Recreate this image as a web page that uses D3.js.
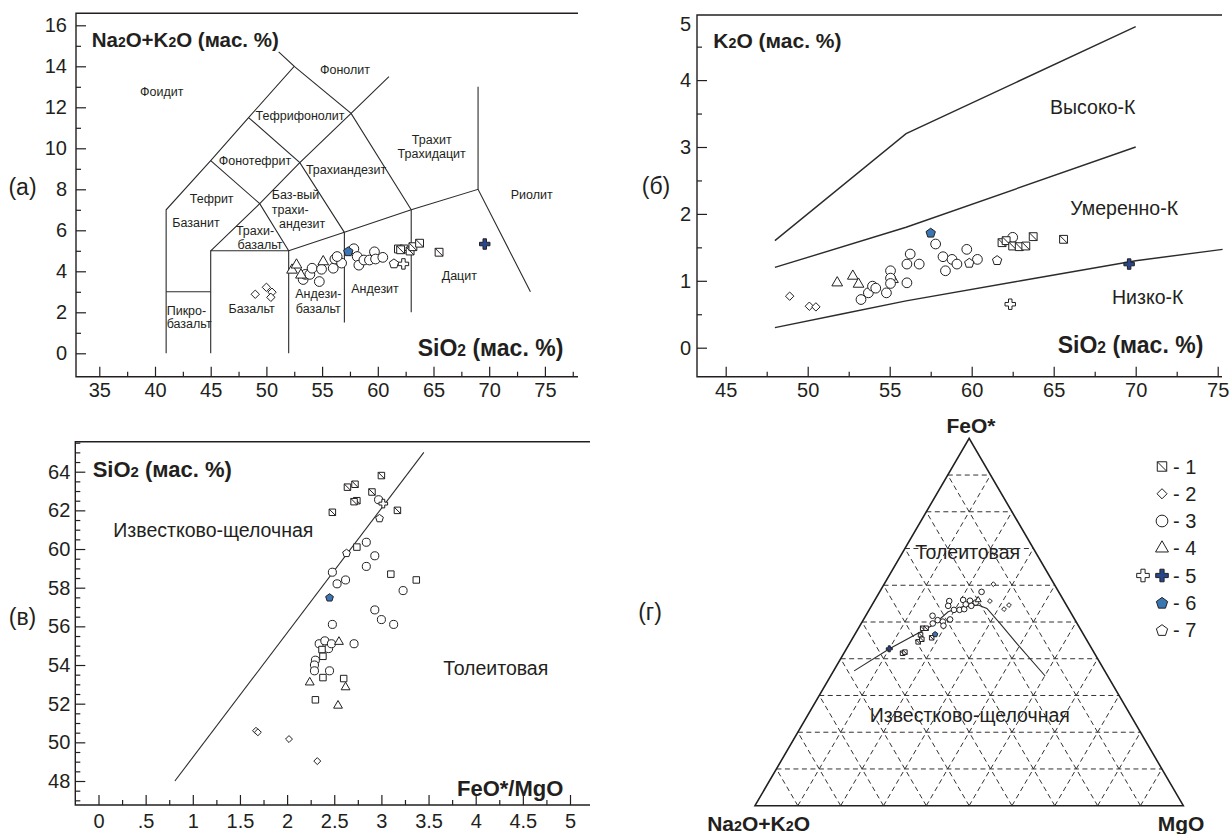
<!DOCTYPE html>
<html lang="ru">
<head>
<meta charset="UTF-8">
<title>Классификационные диаграммы вулканитов</title>
<style>
  html, body { margin: 0; padding: 0; background: #fff; }
  svg { display: block; font-family: "Liberation Sans", Arial, sans-serif; }
</style>
</head>
<body>
<div id="chart"></div>
<script src="https://d3js.org/d3.v7.min.js"></script>
<script>
// marker codes: "1" square with diagonal, "2" diamond, "3" circle, "4" triangle,
// "5" open cross, "5b" blue cross, "6" blue pentagon, "7" open pentagon, "sq" plain square

// ---- (а) TAS: SiO2, Na2O+K2O ----
const tasPoints = [
  [61.85, 5.09, "sq"], [62.35, 5.09, "1"], [62.9, 4.99, "1"], [63.15, 5.2, "1"], [63.75, 5.37, "1"], [65.5, 4.93, "1"], [62.05, 5.05, "1"],
  [49.0, 2.88, "2"], [50.0, 3.22, "2"], [50.5, 2.98, "2"], [50.4, 2.73, "2"],
  [53.3, 3.6, "3"], [53.5, 3.85, "3"], [53.9, 3.85, "3"], [54.1, 4.15, "3"], [54.75, 3.5, "3"], [54.95, 4.1, "3"],
  [56.0, 4.15, "3"], [56.15, 4.6, "3"], [56.75, 4.4, "3"], [56.35, 4.72, "3"], [57.85, 5.1, "3"], [58.15, 4.72, "3"],
  [58.3, 4.3, "3"], [58.75, 4.55, "3"], [59.25, 4.55, "3"], [59.7, 4.95, "3"], [59.8, 4.6, "3"], [60.45, 4.68, "3"],
  [52.3, 4.06, "4"], [52.7, 4.31, "4"], [53.1, 3.82, "4"], [55.1, 4.47, "4"],
  [62.3, 4.36, "5"], [69.6, 5.33, "5b"], [57.35, 4.98, "6"], [61.45, 4.39, "7"]
];
const tasLines = [
  [[41, 0], [41, 7], [45, 9.4], [48.4, 11.5], [52.5, 14], [51.1, 14.7]],
  [[41, 3], [45, 3]],
  [[45, 0], [45, 5], [52, 5], [52, 0]],
  [[45, 5], [49.4, 7.3], [53, 9.3], [57.6, 11.7], [61, 13.5]],
  [[45, 9.4], [49.4, 7.3], [52, 5]],
  [[48.4, 11.5], [53, 9.3], [57, 5.9]],
  [[52.5, 14], [57.6, 11.7], [63, 7]],
  [[52, 5], [57, 5.9], [63, 7], [69, 8], [73.7, 3]],
  [[57, 1.5], [57, 5.9]],
  [[63, 2], [63, 7]],
  [[69, 8], [69, 13]]
];
const tasLabels = [
  ["Фоидит", 40.6, 12.76, "middle"], ["Фонолит", 57.06, 13.85, "middle"], ["Тефрифонолит", 53.02, 11.58, "middle"],
  ["Фонотефрит", 48.98, 9.38, "middle"], ["Трахиандезит", 57.15, 8.94, "middle"], ["Трахит", 64.84, 10.44, "middle"],
  ["Трахидацит", 64.84, 9.72, "middle"], ["Тефрит", 45.09, 7.56, "middle"], ["Базанит", 43.68, 6.37, "middle"],
  ["Баз-вый", 50.48, 7.72, "start"], ["трахи-", 50.48, 7.02, "start"], ["андезит", 51.13, 6.34, "start"],
  ["Трахи-", 48.98, 5.98, "middle"], ["базальт", 49.43, 5.28, "middle"], ["Риолит", 73.82, 7.72, "middle"],
  ["Пикро-", 41.05, 2.08, "start"], ["базальт", 41.05, 1.46, "start"], ["Базальт", 48.68, 2.2, "middle"],
  ["Андези-", 54.66, 2.89, "middle"], ["базальт", 54.66, 2.2, "middle"], ["Андезит", 59.75, 3.17, "middle"],
  ["Дацит", 67.32, 3.77, "middle"]
];
const tasXMajor = [35, 40, 45, 50, 55, 60, 65, 70, 75];
const tasYMajor = [0, 2, 4, 6, 8, 10, 12, 14, 16];

// ---- (б) K2O - SiO2 ----
const k2oPoints = [
  [48.9, 0.77, "2"], [50.1, 0.62, "2"], [50.5, 0.61, "2"],
  [51.8, 0.97, "4"], [52.75, 1.07, "4"], [53.1, 0.95, "4"], [55.2, 1.02, "4"],
  [53.25, 0.72, "3"], [53.7, 0.82, "3"], [53.95, 0.92, "3"], [54.15, 0.89, "3"], [54.8, 0.82, "3"], [55.05, 1.15, "3"],
  [55.05, 1.04, "3"], [55.05, 0.96, "3"], [56.05, 0.97, "3"], [56.05, 1.25, "3"], [56.25, 1.4, "3"], [56.8, 1.25, "3"],
  [57.8, 1.55, "3"], [58.25, 1.36, "3"], [58.4, 1.15, "3"], [58.8, 1.32, "3"], [59.1, 1.25, "3"], [59.7, 1.47, "3"],
  [60.35, 1.32, "3"], [62.5, 1.65, "3"],
  [61.85, 1.57, "1"], [62.1, 1.6, "1"], [62.5, 1.52, "1"], [62.9, 1.51, "1"], [63.3, 1.52, "1"], [63.75, 1.66, "1"], [65.6, 1.62, "1"],
  [59.85, 1.27, "7"], [61.55, 1.31, "7"], [57.5, 1.72, "6"], [69.6, 1.25, "5b"], [62.35, 0.65, "5"]
];
const k2oLines = [
  [[48, 1.6], [56, 3.2], [70, 4.8]],
  [[48, 1.2], [56, 1.8], [70, 3.0]],
  [[48, 0.3], [52, 0.5], [56, 0.7], [63, 1.0], [70, 1.3], [75.3, 1.47]]
];
const k2oLabels = [["Высоко-К", 67.38, 3.6], ["Умеренно-К", 69.3, 2.08], ["Низко-К", 70.73, 0.76]];
const k2oXMajor = [45, 50, 55, 60, 65, 70, 75];
const k2oYMajor = [0, 1, 2, 3, 4, 5];

// ---- (в) SiO2 - FeO*/MgO ----
const feoPoints = [
  [3.0, 63.8, "1"], [2.72, 63.35, "1"], [2.64, 63.2, "1"], [2.9, 62.95, "1"], [2.74, 62.5, "1"], [2.71, 62.45, "1"], [3.17, 62.0, "1"], [2.48, 61.9, "1"],
  [2.97, 62.55, "3"], [2.84, 60.35, "3"], [2.93, 59.65, "3"], [2.84, 59.1, "3"], [2.48, 58.8, "3"], [2.53, 58.2, "3"],
  [2.62, 58.4, "3"], [3.23, 57.85, "3"], [2.93, 56.85, "3"], [3.0, 56.35, "3"], [3.13, 56.1, "3"], [2.48, 56.1, "3"],
  [2.71, 55.1, "3"], [2.34, 55.1, "3"], [2.40, 55.25, "3"], [2.44, 54.85, "3"], [2.47, 55.1, "3"], [2.30, 54.25, "3"],
  [2.29, 54.0, "3"], [2.29, 53.7, "3"], [2.45, 53.7, "3"],
  [2.98, 61.6, "7"], [2.63, 59.8, "7"], [3.02, 62.35, "5"],
  [2.74, 60.1, "sq"], [3.1, 58.7, "sq"], [3.37, 58.4, "sq"], [2.37, 54.8, "sq"], [2.38, 54.45, "sq"], [2.38, 53.35, "sq"], [2.6, 53.3, "sq"], [2.30, 52.2, "sq"],
  [2.55, 55.2, "4"], [2.24, 53.1, "4"], [2.62, 52.85, "4"], [2.54, 51.9, "4"],
  [2.45, 57.5, "6"],
  [1.67, 50.6, "2"], [1.69, 50.52, "2"], [2.02, 50.17, "2"], [2.32, 49.03, "2"]
];
const miyashiroLine = [[0.81, 48], [3.45, 65]];
const feoXMajor = [0, 0.5, 1, 1.5, 2, 2.5, 3, 3.5, 4, 4.5, 5];
const feoYMajor = [48, 50, 52, 54, 56, 58, 60, 62, 64];

// ---- (г) AFM: FeO*, Na2O+K2O, MgO (%) ----
const afmPoints = [
  [55.7, 26.8, 17.5, "3"], [54.4, 27.7, 17.9, "3"], [53.3, 26.9, 19.8, "3"], [53.3, 25.6, 21.1, "3"], [53.5, 24.4, 22.1, "3"],
  [56.0, 23.4, 20.6, "3"], [54.8, 23.4, 21.8, "3"], [55.8, 21.9, 22.3, "3"], [54.4, 22.3, 23.3, "3"], [55.3, 20.8, 23.9, "3"],
  [58.2, 18.0, 23.8, "3"], [51.7, 32.7, 15.6, "3"], [49.6, 33.7, 16.7, "3"], [50.5, 32.1, 17.4, "3"], [50.1, 31.1, 18.8, "3"],
  [49.0, 31.5, 19.5, "3"], [50.7, 29.1, 20.2, "3"],
  [60.3, 14.2, 25.5, "2"], [55.7, 17.3, 27.0, "2"], [53.5, 15.1, 31.4, "2"], [54.6, 13.4, 32.0, "2"],
  [48.3, 36.7, 15.0, "1"], [48.3, 35.9, 15.8, "1"], [46.5, 38.1, 15.4, "1"], [44.6, 39.6, 15.8, "1"], [45.3, 38.4, 16.3, "1"],
  [45.7, 35.9, 18.4, "1"], [41.5, 44.8, 13.7, "1"], [41.8, 44.1, 14.1, "1"],
  [56.0, 19.9, 24.1, "4"], [42.7, 47.3, 10.0, "5b"], [46.7, 34.6, 18.7, "6"]
];
const afmCurve = [
  [36.7, 58.5, 4.8], [42.8, 47.1, 10.1], [49.2, 33.8, 17.0], [52.8, 28.5, 18.7], [54.2, 24.3, 21.5],
  [54.6, 20.6, 24.8], [53.7, 19.0, 27.3], [49.7, 18.0, 32.3], [44.2, 16.8, 39.0], [35.3, 14.6, 50.1]
];
const afmLabels = [["Толеитовая", 69.1, 15.8, 15.1], ["Известково-щелочная", 24.7, 37.5, 37.8]];
const afmGrid = [10, 20, 30, 40, 50, 60, 70, 80, 90];

const legendItems = [
  [["1"], "- 1"], [["2"], "- 2"], [["3"], "- 3"], [["4"], "- 4"], [["5", "5b"], "- 5"], [["6"], "- 6"], [["7"], "- 7"]
];

// ---------------------------------------------------------------
const ink = "#231f20";
const svg = d3.select("#chart").append("svg").attr("width", 1232).attr("height", 834);

const symSquareDiag = {
  draw(ctx, size) {
    const s = Math.sqrt(size) / 2;
    ctx.moveTo(-s, -s); ctx.lineTo(s, -s); ctx.lineTo(s, s); ctx.lineTo(-s, s); ctx.closePath();
    ctx.moveTo(-s, -s); ctx.lineTo(s, s);
  }
};
const symRhomb = {
  draw(ctx, size) {
    const r = Math.sqrt(size / 2);
    ctx.moveTo(0, -r); ctx.lineTo(r, 0); ctx.lineTo(0, r); ctx.lineTo(-r, 0); ctx.closePath();
  }
};
const symPentagon = {
  draw(ctx, size) {
    const r = Math.sqrt(size / 2.378);
    for (let i = 0; i < 5; i++) {
      const a = -Math.PI / 2 + i * 2 * Math.PI / 5;
      i ? ctx.lineTo(r * Math.cos(a), r * Math.sin(a) + r * 0.1) : ctx.moveTo(r * Math.cos(a), r * Math.sin(a) + r * 0.1);
    }
    ctx.closePath();
  }
};

const markerStyle = {
  "1": { type: symSquareDiag, size: 56, fill: "#fff" },
  "sq": { type: d3.symbolSquare, size: 56, fill: "#fff" },
  "2": { type: symRhomb, size: 32, fill: "#fff" },
  "3": { type: d3.symbolCircle, size: 68, fill: "#fff" },
  "4": { type: d3.symbolTriangle, size: 45, fill: "#fff" },
  "5": { type: d3.symbolCross, size: 55, fill: "#fff" },
  "5b": { type: d3.symbolCross, size: 55, fill: "#27468c" },
  "6": { type: symPentagon, size: 52, fill: "#3a76b3" },
  "7": { type: symPentagon, size: 52, fill: "#fff" }
};

function drawMarkers(g, points, pos, k) {
  g.append("g").selectAll("path").data(points).join("path")
    .attr("transform", d => { const p = pos(d); return `translate(${p[0]},${p[1]})`; })
    .attr("d", d => d3.symbol(markerStyle[d[d.length - 1]].type, markerStyle[d[d.length - 1]].size * k)())
    .attr("fill", d => markerStyle[d[d.length - 1]].fill)
    .attr("stroke", ink)
    .attr("stroke-width", 1);
}

function chem(g, str, x, y, size, anchor) {
  const t = g.append("text").attr("x", x).attr("y", y).attr("font-size", size)
    .attr("font-weight", "bold").attr("text-anchor", anchor || "start").attr("fill", ink);
  str.split(/(_\d)/).forEach(p => {
    if (!p) return;
    if (p[0] === "_") t.append("tspan").attr("font-size", size * 0.68).text(p.slice(1));
    else t.append("tspan").text(p);
  });
}

function plain(g, str, x, y, size, anchor) {
  g.append("text").attr("x", x).attr("y", y).attr("dy", "0.35em").attr("font-size", size)
    .attr("text-anchor", anchor || "middle").attr("fill", ink).text(str);
}

function drawFrame(g, f) {
  g.append("path").attr("d", `M${f.r},${f.t}H${f.l}V${f.b}H${f.r}`)
    .attr("fill", "none").attr("stroke", ink).attr("stroke-width", 1.4);
}

function styleAxis(a) {
  a.select(".domain").remove();
  a.attr("font-size", 20).attr("font-family", null).attr("color", ink);
  a.selectAll(".tick line").attr("stroke-width", 1.2);
}

function drawAxes(g, sx, sy, f, o) {
  const inX = v => sx(v) > f.l + 2 && sx(v) < f.r - 1;
  const inY = v => sy(v) > f.t + 1 && sy(v) < f.b - 2;
  g.append("g").attr("transform", `translate(0,${f.b})`)
    .call(d3.axisBottom(sx).tickValues(o.xMajor).tickSize(-10).tickPadding(o.xPad).tickFormat(o.xFmt || (d => String(d))))
    .call(styleAxis);
  g.append("g").attr("transform", `translate(0,${f.b})`)
    .call(d3.axisBottom(sx).tickValues(o.xMinor.filter(inX)).tickSize(-5).tickFormat(""))
    .call(styleAxis);
  const ya = g.append("g").attr("transform", `translate(${f.l},0)`)
    .call(d3.axisLeft(sy).tickValues(o.yMajor).tickSize(-10).tickPadding(o.yPad).tickFormat(d => String(d)))
    .call(styleAxis);
  g.append("g").attr("transform", `translate(${f.l},0)`)
    .call(d3.axisLeft(sy).tickValues(o.yMinor.filter(inY)).tickSize(-5).tickFormat(""))
    .call(styleAxis);
  return ya;
}

const line = d3.line();

// ---------------- (а) ----------------
{
  const f = { l: 76, r: 578, t: 13.3, b: 376.7 };
  const x = d3.scaleLinear().domain([35, 75]).range([99.3, 544.9]);
  const y = d3.scaleLinear().domain([0, 16]).range([353.3, 25.3]);
  const g = svg.append("g");
  g.append("g").selectAll("path").data(tasLines).join("path")
    .attr("d", d => line(d.map(p => [x(p[0]), y(p[1])])))
    .attr("fill", "none").attr("stroke", "#2b2b2b").attr("stroke-width", 1.1);
  g.append("g").selectAll("text").data(tasLabels).join("text")
    .attr("x", d => x(d[1])).attr("y", d => y(d[2])).attr("dy", "0.35em")
    .attr("text-anchor", d => d[3]).attr("font-size", 12.5).attr("fill", ink).text(d => d[0]);
  drawMarkers(g, tasPoints, d => [x(d[0]), y(d[1])], 1.1);
  drawFrame(g, f);
  drawAxes(g, x, y, f, {
    xMajor: tasXMajor, xMinor: d3.range(32.5, 80, 5), xPad: 6,
    yMajor: tasYMajor, yMinor: d3.range(1, 16, 2), yPad: 9
  });
  chem(g, "Na_2O+K_2O (мас. %)", 91.7, 47.3, 20.5, "start");
  chem(g, "SiO_2 (мас. %)", 563.3, 356, 23, "end");
  plain(g, "(а)", 22.5, 187, 23);
}

// ---------------- (б) ----------------
{
  const f = { l: 697, r: 1222, t: 15, b: 376.7 };
  const x = d3.scaleLinear().domain([45, 75]).range([725.7, 1217.7]);
  const y = d3.scaleLinear().domain([0, 5]).range([347.7, 13.2]);
  const g = svg.append("g");
  g.append("g").selectAll("path").data(k2oLines).join("path")
    .attr("d", d => line(d.map(p => [x(p[0]), y(p[1])])))
    .attr("fill", "none").attr("stroke", "#2b2b2b").attr("stroke-width", 1.4);
  g.append("g").selectAll("text").data(k2oLabels).join("text")
    .attr("x", d => x(d[1])).attr("y", d => y(d[2])).attr("dy", "0.35em")
    .attr("text-anchor", "middle").attr("font-size", 19.5).attr("fill", ink).text(d => d[0]);
  drawMarkers(g, k2oPoints, d => [x(d[0]), y(d[1])], 1.1);
  drawFrame(g, f);
  const ya = drawAxes(g, x, y, f, {
    xMajor: k2oXMajor, xMinor: d3.range(42.5, 77, 5), xPad: 6,
    yMajor: k2oYMajor, yMinor: d3.range(0.5, 5, 1), yPad: 6
  });
  ya.selectAll(".tick").filter(d => d === 5).select("line").remove();
  ya.selectAll(".tick text").filter(d => d === 5).attr("dy", "0.85em");
  chem(g, "K_2O (мас. %)", 713.3, 48.3, 21, "start");
  chem(g, "SiO_2 (мас. %)", 1203.3, 353.3, 23, "end");
  plain(g, "(б)", 656, 186, 23);
}

// ---------------- (в) ----------------
{
  const f = { l: 75.3, r: 590, t: 441.7, b: 805 };
  const x = d3.scaleLinear().domain([0, 5]).range([98.5, 570]);
  const y = d3.scaleLinear().domain([48, 64]).range([781, 471.7]);
  const g = svg.append("g");
  g.append("path").attr("d", line(miyashiroLine.map(p => [x(p[0]), y(p[1])])))
    .attr("fill", "none").attr("stroke", "#2b2b2b").attr("stroke-width", 1.1);
  plain(g, "Известково-щелочная", x(0.157), y(60.98), 19.5, "start");
  plain(g, "Толеитовая", x(3.656), y(53.83), 19.5, "start");
  drawMarkers(g, feoPoints, d => [x(d[0]), y(d[1])], 0.75);
  drawFrame(g, f);
  drawAxes(g, x, y, f, {
    xMajor: feoXMajor, xMinor: d3.range(0.25, 5.3, 0.5), xPad: 8.5,
    xFmt: d => d === 0.5 ? ".5" : String(d),
    yMajor: feoYMajor, yMinor: d3.range(47, 66, 0.5).filter(v => v % 2 !== 0), yPad: 5
  });
  chem(g, "SiO_2 (мас. %)", 92.7, 476.7, 22, "start");
  chem(g, "FeO*/MgO", 457, 796, 22, "start");
  plain(g, "(в)", 22.5, 617, 23);
}

// ---------------- (г) ----------------
{
  // M + F/2 along the base, F up the height
  const tx = d3.scaleLinear().domain([0, 100]).range([755, 1183.3]);
  const ty = d3.scaleLinear().domain([0, 100]).range([805.7, 438.3]);
  const P = (F, A, M) => { const s = (F + A + M) / 100; return [tx((M + F / 2) / s), ty(F / s)]; };
  const g = svg.append("g");
  const grid = [];
  afmGrid.forEach(v => {
    grid.push([P(v, 100 - v, 0), P(v, 0, 100 - v)]);
    grid.push([P(0, 100 - v, v), P(100 - v, 0, v)]);
    grid.push([P(0, v, 100 - v), P(100 - v, v, 0)]);
  });
  g.append("g").selectAll("path").data(grid).join("path")
    .attr("d", d => line(d)).attr("fill", "none")
    .attr("stroke", "#333").attr("stroke-width", 1).attr("stroke-dasharray", "5,3.5");
  g.append("path").attr("d", line([P(0, 100, 0), P(100, 0, 0), P(0, 0, 100)]) + "Z")
    .attr("fill", "none").attr("stroke", ink).attr("stroke-width", 1.6).attr("stroke-linejoin", "miter");
  g.append("path").attr("d", line(afmCurve.map(d => P(d[0], d[1], d[2]))))
    .attr("fill", "none").attr("stroke", "#2b2b2b").attr("stroke-width", 1.1);
  afmLabels.forEach(d => { const p = P(d[1], d[2], d[3]); plain(g, d[0], p[0], p[1], 19.5, "middle"); });
  drawMarkers(g, afmPoints, d => P(d[0], d[1], d[2]), 0.36);
  chem(g, "FeO*", 971, 433, 21, "middle");
  chem(g, "Na_2O+K_2O", 810, 831, 21, "end");
  chem(g, "MgO", 1181, 831, 21, "middle");
  plain(g, "(г)", 650, 612, 23);

  // legend
  const lg = g.append("g");
  legendItems.forEach((it, i) => {
    const cy = 466.5 + i * 27.25;
    it[0].forEach((t, j) => {
      const cx = 1162 - (it[0].length - 1 - j) * 19;
      drawMarkers(lg, [[cx, cy, t]], d => [d[0], d[1]], 1.6);
    });
    plain(lg, it[1], 1173, cy, 20, "start");
  });
}
</script>
</body>
</html>
